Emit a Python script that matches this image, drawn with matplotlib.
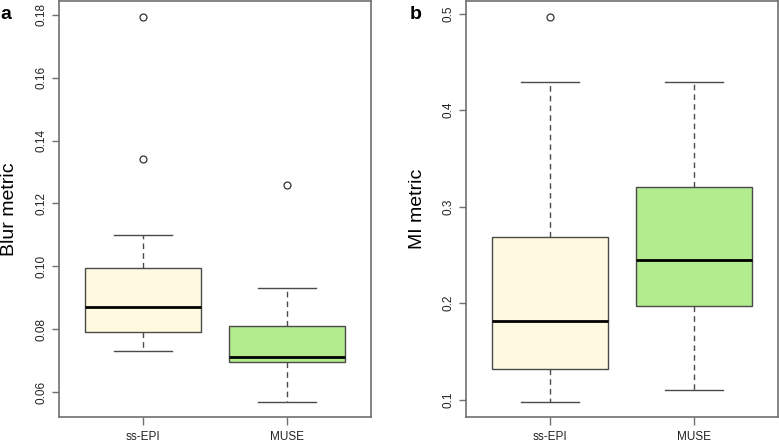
import matplotlib
matplotlib.use("Agg")
import matplotlib.pyplot as plt

plt.rcParams['font.family'] = ['Liberation Sans', 'DejaVu Sans']

groups = ["ss-EPI", "MUSE"]
box_colors = ["#FFFADF", "#B3EB8F"]

# Panel a: Blur metric  (whislo, q1, med, q3, whishi, outliers)
blur_whislo = [0.0731, 0.0570]
blur_q1 = [0.0790, 0.0696]
blur_med = [0.0871, 0.0711]
blur_q3 = [0.0996, 0.0811]
blur_whishi = [0.1100, 0.0931]
blur_fliers = [[0.1794, 0.1340], [0.1260]]

# Panel b: MI metric
mi_whislo = [0.098, 0.110]
mi_q1 = [0.132, 0.197]
mi_med = [0.181, 0.245]
mi_q3 = [0.269, 0.320]
mi_whishi = [0.4286, 0.429]
mi_fliers = [[0.4966], []]

blur_ticks = [0.06, 0.08, 0.10, 0.12, 0.14, 0.16, 0.18]
blur_ticklabels = ["0.06", "0.08", "0.10", "0.12", "0.14", "0.16", "0.18"]
mi_ticks = [0.1, 0.2, 0.3, 0.4, 0.5]
mi_ticklabels = ["0.1", "0.2", "0.3", "0.4", "0.5"]

W, H = 779, 443
fig = plt.figure(figsize=(W / 100, H / 100), dpi=100)

edge = "#4a4a4a"
frame = "#707070"


def make_stats(whislo, q1, med, q3, whishi, fliers):
    out = []
    for i in range(len(med)):
        out.append(dict(whislo=whislo[i], q1=q1[i], med=med[i], q3=q3[i],
                        whishi=whishi[i], fliers=fliers[i], label=groups[i]))
    return out


def panel(rect, stats, ylim, ticks, ticklabels, ylabel, letter, letter_x, label_x):
    ax = fig.add_axes(rect)
    bp = ax.bxp(stats, positions=[1, 2], widths=0.8, patch_artist=True,
                showfliers=True, capwidths=0.4,
                boxprops=dict(edgecolor=edge, linewidth=1.0),
                medianprops=dict(color="black", linewidth=2.0),
                whiskerprops=dict(color=edge, linewidth=1.0, linestyle=(0, (4, 3))),
                capprops=dict(color=edge, linewidth=1.0),
                flierprops=dict(marker="o", markerfacecolor="none",
                                markeredgecolor="#333333", markersize=5,
                                markeredgewidth=0.9))
    for patch, c in zip(bp["boxes"], box_colors):
        patch.set_facecolor(c)
    ax.set_xlim(0.42, 2.58)
    ax.set_ylim(*ylim)
    ax.set_yticks(ticks)
    ax.set_yticklabels(ticklabels)
    ax.set_xticks([1, 2])
    ax.set_xticklabels(groups)
    ax.tick_params(axis="y", labelrotation=90, length=5, width=1.0, color=frame,
                   labelsize=8.5, pad=3, labelcolor="#222222")
    ax.tick_params(axis="x", length=6, width=1.0, color=frame, labelsize=8.5,
                   pad=4, labelcolor="#222222")
    for lab in ax.get_yticklabels():
        lab.set_va("center")
    for s in ax.spines.values():
        s.set_color(frame)
        s.set_linewidth(1.2)
    ax.set_ylabel(ylabel, fontsize=14)
    ax.yaxis.set_label_coords(label_x, 0.5)
    fig.text(letter_x, 0.968, letter, fontsize=14, fontweight="bold",
             ha="left", va="center")
    return ax


panel([59 / W, 26 / H, 312 / W, 416 / H],
      make_stats(blur_whislo, blur_q1, blur_med, blur_q3, blur_whishi, blur_fliers),
      (0.0521, 0.1844), blur_ticks, blur_ticklabels, "Blur metric", "a",
      0 / W, -0.13)
panel([466 / W, 26 / H, 312 / W, 416 / H],
      make_stats(mi_whislo, mi_q1, mi_med, mi_q3, mi_whishi, mi_fliers),
      (0.082, 0.513), mi_ticks, mi_ticklabels, "MI metric", "b",
      410 / W, -0.127)

fig.savefig("out.png", dpi=100)
